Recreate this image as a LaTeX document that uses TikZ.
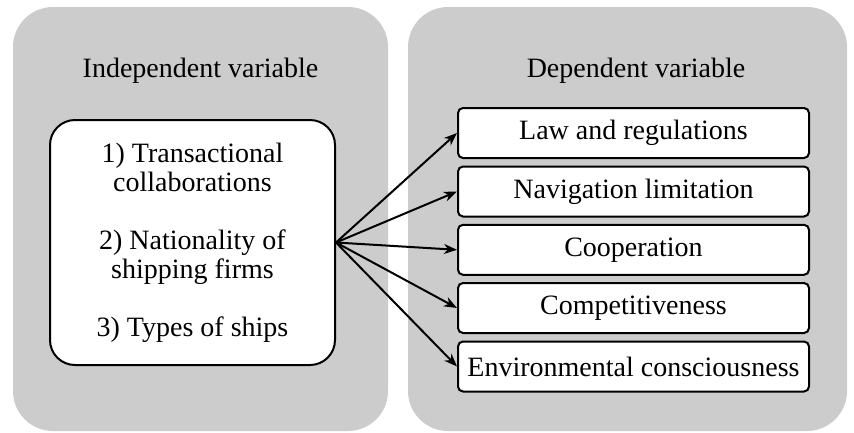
\documentclass[tikz,border=0pt]{standalone}
\usepackage{fontspec}
\setmainfont{Liberation Serif}
\usetikzlibrary{arrows.meta}
\definecolor{panelgray}{gray}{0.8}
\tikzset{
  panel/.style={fill=panelgray, draw=none, rounded corners=40pt},
  title/.style={font=\fontsize{28}{29}\selectfont, anchor=base},
  ivbox/.style={draw=black, line width=2pt, fill=white, rounded corners=25pt,
    minimum width=285pt, minimum height=245pt, align=center,
    font=\fontsize{28}{29}\selectfont},
  dvbox/.style={draw=black, line width=2pt, fill=white, rounded corners=5pt,
    minimum width=351pt, minimum height=50pt, inner sep=0pt,
    font=\fontsize{28}{29}\selectfont},
  link/.style={line width=2pt, -{Stealth[length=13pt, width=10pt, inset=4pt]}}
}
\begin{document}
\begin{tikzpicture}[x=1pt, y=-1pt]
  \useasboundingbox (0,0) rectangle (854,432);
  % background panels
  \fill[panel] (13,7) rectangle (388,431);
  \fill[panel] (408,7) rectangle (847,431);
  % panel titles
  \node[title] (ivtitle) at (200.5,77) {Independent variable};
  \node[title] (dvtitle) at (636,77) {Dependent variable};
  % independent variables
  \node[ivbox] (iv) at (192.5,242.5) {1) Transactional\\collaborations\\[29pt]2) Nationality of\\shipping firms\\[29pt]3) Types of ships};
  % dependent variables
  \node[dvbox] (d1) at (633.5,133) {Law and regulations};
  \node[dvbox] (d2) at (633.5,191.5) {Navigation limitation};
  \node[dvbox] (d3) at (633.5,249.8) {Cooperation};
  \node[dvbox] (d4) at (633.5,308) {Competitiveness};
  \node[dvbox] (d5) at (633.5,366.5) {Environmental consciousness};
  % links
  \foreach \t in {d1,d2,d3,d4,d5}
    \draw[link] (iv.east) -- (\t.west);
\end{tikzpicture}
\end{document}
